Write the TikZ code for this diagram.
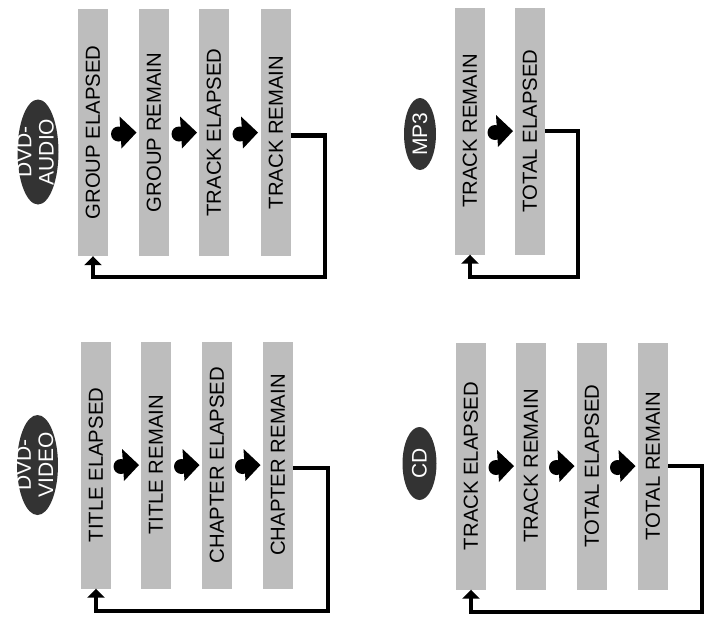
\documentclass[tikz,border=0pt]{standalone}
\usepackage{graphicx}
\usepackage{fontspec}
\setmainfont{Liberation Sans}
\usetikzlibrary{arrows.meta,shapes.geometric,calc}
\definecolor{bargray}{HTML}{BDBDBD}
\definecolor{ovaldark}{HTML}{333333}
\tikzset{
  bar/.style={fill=bargray, minimum width=30pt, minimum height=247pt, inner sep=0pt,
    font=\fontsize{20.3}{24}\selectfont},
  oval/.style={ellipse, fill=ovaldark, inner sep=0pt},
  ovaltext/.style={text=white, font=\fontsize{21}{22.5}\selectfont, inner sep=0pt},
  loopline/.style={line width=4.2pt, line join=miter, -{Triangle[width=17pt,length=9pt]}},
  pics/nxt/.style={code={
    \fill[black] (-4,-16) -- (-2,16) -- (13,0) -- cycle;
    \fill[black] (-5,1.5) circle (7.5pt);
  }}
}
\newcommand{\rt}[1]{\rotatebox{90}{#1}}
\newcommand{\rtt}[2]{\rotatebox{90}{\begin{tabular}{@{}c@{}}#1\\#2\end{tabular}}}
\begin{document}
\begin{tikzpicture}[x=1pt,y=-1pt]
\useasboundingbox (0,0) rectangle (707,630);

% ---------- DVD-AUDIO ----------
\node[oval, minimum width=41pt, minimum height=105pt,
  label={[ovaltext]center:\rtt{DVD-}{AUDIO}}] (oa) at (38,152) {};
\node[bar] (a1) at (93,132.5) {\rt{GROUP ELAPSED}};
\node[bar] (a2) at (154,132.5) {\rt{GROUP REMAIN}};
\node[bar] (a3) at (214,132.5) {\rt{TRACK ELAPSED}};
\node[bar] (a4) at (276,132.5) {\rt{TRACK REMAIN}};
\pic at ($(a1.east)!0.5!(a2.west)$) {nxt};
\pic at ($(a2.east)!0.5!(a3.west)$) {nxt};
\pic at ($(a3.east)!0.5!(a4.west)$) {nxt};
\draw[loopline] ([yshift=-3pt]a4.east) -- ++(34,0) |- ($(a1.south)+(0,21)$) -- (a1.south);

% ---------- MP3 ----------
\node[oval, minimum width=32pt, minimum height=72pt,
  label={[ovaltext]center:\rt{MP3}}] (om) at (420,134) {};
\node[bar] (m1) at (470,131) {\rt{TRACK REMAIN}};
\node[bar] (m2) at (530,131) {\rt{TOTAL ELAPSED}};
\pic at ($(m1.east)!0.5!(m2.west)$) {nxt};
\draw[loopline] (m2.east) -- ++(33,0) |- ($(m1.south)+(0,22)$) -- (m1.south);

% ---------- DVD-VIDEO ----------
\node[oval, minimum width=41pt, minimum height=100pt,
  label={[ovaltext]center:\rtt{DVD-}{VIDEO}}] (ov) at (37.5,465) {};
\node[bar] (v1) at (96,465) {\rt{TITLE ELAPSED}};
\node[bar] (v2) at (156,465) {\rt{TITLE REMAIN}};
\node[bar] (v3) at (217,465) {\rt{CHAPTER ELAPSED}};
\node[bar] (v4) at (278,465) {\rt{CHAPTER REMAIN}};
\pic at ($(v1.east)!0.5!(v2.west)$) {nxt};
\pic at ($(v2.east)!0.5!(v3.west)$) {nxt};
\pic at ($(v3.east)!0.5!(v4.west)$) {nxt};
\draw[loopline] ([yshift=-3pt]v4.east) -- ++(35,0) |- ($(v1.south)+(0,22)$) -- (v1.south);

% ---------- CD ----------
\node[oval, minimum width=34pt, minimum height=73pt,
  label={[ovaltext]center:\rt{CD}}] (oc) at (419.5,463.5) {};
\node[bar] (c1) at (471,466) {\rt{TRACK ELAPSED}};
\node[bar] (c2) at (531,466) {\rt{TRACK REMAIN}};
\node[bar] (c3) at (592,466) {\rt{TOTAL ELAPSED}};
\node[bar] (c4) at (653,466) {\rt{TOTAL REMAIN}};
\pic at ($(c1.east)!0.5!(c2.west)$) {nxt};
\pic at ($(c2.east)!0.5!(c3.west)$) {nxt};
\pic at ($(c3.east)!0.5!(c4.west)$) {nxt};
\draw[loopline] (c4.east) -- ++(34,0) |- ($(c1.south)+(0,22)$) -- (c1.south);
\end{tikzpicture}
\end{document}
